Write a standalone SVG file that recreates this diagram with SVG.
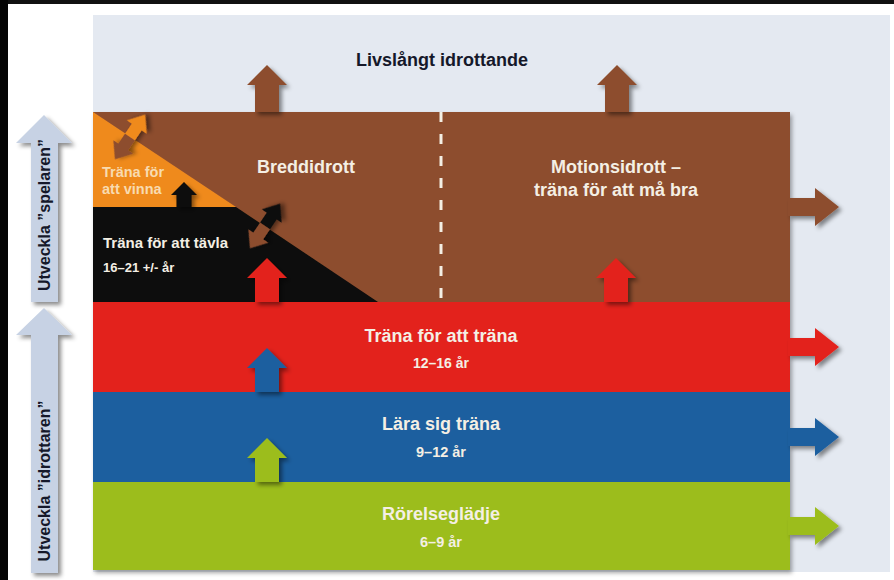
<svg xmlns="http://www.w3.org/2000/svg" xmlns:xlink="http://www.w3.org/1999/xlink" width="894" height="580" viewBox="0 0 894 580">
<style>
.t{font-family:"Liberation Sans",Arial,sans-serif;font-weight:bold}
.lt{fill:#f4efe4}
.dk{fill:#15182a}
.brown{fill:#8d4e2f}
.orange{fill:#ef8a1f}
.black{fill:#0c0c0c}
.red{fill:#e3241b}
.blue{fill:#1e5f9f}
.green{fill:#9cbd1f}
.pale{fill:#c7d2e4}
.sh{filter:url(#sh)}
</style>
<defs>
<filter id="sh" x="-40%" y="-40%" width="180%" height="180%">
<feDropShadow dx="3" dy="3" stdDeviation="2" flood-color="#000" flood-opacity="0.45"/>
</filter>
<filter id="sh2" x="-5%" y="-5%" width="110%" height="110%">
<feDropShadow dx="2" dy="3" stdDeviation="2" flood-color="#000" flood-opacity="0.35"/>
</filter>
<path id="right" d="M-2,-9 L25,-9 L25,-19 L49,0 L25,19 L25,9 L-2,9 Z"/>
<path id="up" d="M0,0 L20,20 L12,20 L12,44 L-12,44 L-12,20 L-20,20 Z"/>
<path id="upTop" d="M0,0 L20,20 L12,20 L12,47 L-12,47 L-12,20 L-20,20 Z"/>
<path id="halfOut" d="M0,-6 L12,-6 L12,-12 L27,0 L12,12 L12,6 L0,6 Z"/>
<path id="halfIn" d="M0,-6 L-12,-6 L-12,-12 L-27,0 L-12,12 L-12,6 L0,6 Z"/>
</defs>

<g id="background">
<rect x="0" y="0" width="894" height="580" fill="#ffffff"/>
<rect x="0" y="0" width="894" height="4" fill="#111111"/>
<rect x="0" y="0" width="8" height="580" fill="#050505"/>
<rect x="93" y="15" width="797" height="557" fill="#e4e9f1"/>
</g>

<g id="title">
<text class="t dk" x="442" y="66" font-size="18" text-anchor="middle">Livslångt idrottande</text>
</g>

<g id="stairs" filter="url(#sh2)">
<g id="zone-brown"><rect class="brown" x="93" y="112" width="697" height="190"/></g>
<g id="zone-orange"><polygon class="orange" points="93,112 236,207 93,207"/></g>
<g id="zone-black"><polygon class="black" points="93,207 236,207 378,302 93,302"/></g>
<g id="band-red"><rect class="red" x="93" y="302" width="697" height="90"/></g>
<g id="band-blue"><rect class="blue" x="93" y="392" width="697" height="90"/></g>
<g id="band-green"><rect class="green" x="93" y="482" width="697" height="88"/></g>
</g>

<line x1="441" y1="112" x2="441" y2="300" stroke="#f4efe4" stroke-width="3" stroke-dasharray="10 12"/>

<g id="connectors">
<use href="#upTop" class="brown sh" x="267" y="65"/>
<use href="#upTop" class="brown sh" x="617" y="65"/>
<use href="#right" class="brown sh" x="790" y="207"/>
<use href="#right" class="red sh" x="790" y="347"/>
<use href="#right" class="blue sh" x="790" y="437"/>
<use href="#right" class="green sh" x="790" y="526"/>
<use href="#up" class="red sh" x="267" y="258"/>
<use href="#up" class="red sh" x="616" y="258"/>
<use href="#up" class="blue sh" x="267" y="348"/>
<use href="#up" class="green sh" x="267" y="438"/>
<path class="black sh" d="M184,182 L197,195 L191.5,195 L191.5,207 L176.5,207 L176.5,195 L171,195 Z"/>
<g class="sh" transform="translate(130,137) rotate(-56)">
<use href="#halfOut" class="orange"/>
<use href="#halfIn" class="brown"/>
</g>
<g class="sh" transform="translate(265,226) rotate(-56)">
<use href="#halfOut" class="black"/>
<use href="#halfIn" class="brown"/>
</g>
</g>

<g id="side-arrows">
<g id="utveckla-spelaren">
<polygon class="pale sh" points="44,115 72,143 58,143 58,302 31,302 31,143 16,143"/>
<text class="t dk" font-size="16" text-anchor="middle" transform="translate(50,215) rotate(-90)">Utveckla ”spelaren”</text>
</g>
<g id="utveckla-idrottaren">
<polygon class="pale sh" points="44,308 72,335 58,335 58,573 31,573 31,335 16,335"/>
<text class="t dk" font-size="16" text-anchor="middle" transform="translate(50,481) rotate(-90)">Utveckla ”idrottaren”</text>
</g>
</g>

<g id="labels">
<text class="t lt" x="306" y="173" font-size="18" text-anchor="middle">Breddidrott</text>
<text class="t lt" x="616" y="173" font-size="18" text-anchor="middle">Motionsidrott –</text>
<text class="t lt" x="616" y="196" font-size="18" text-anchor="middle">träna för att må bra</text>
<text class="t" x="102" y="177" font-size="14.5" fill="#f8dbb0">Träna för</text>
<text class="t" x="102" y="194" font-size="14.5" fill="#f8dbb0">att vinna</text>
<text class="t lt" x="103" y="248" font-size="15">Träna för att tävla</text>
<text class="t lt" x="103" y="272" font-size="13">16–21 +/- år</text>
<text class="t lt" x="441" y="342" font-size="18" text-anchor="middle">Träna för att träna</text>
<text class="t lt" x="441" y="368" font-size="14" text-anchor="middle">12–16 år</text>
<text class="t lt" x="441" y="430" font-size="18" text-anchor="middle">Lära sig träna</text>
<text class="t lt" x="441" y="457" font-size="14.5" text-anchor="middle">9–12 år</text>
<text class="t lt" x="441" y="520" font-size="18" text-anchor="middle">Rörelseglädje</text>
<text class="t lt" x="441" y="547" font-size="14.5" text-anchor="middle">6–9 år</text>
</g>
</svg>
